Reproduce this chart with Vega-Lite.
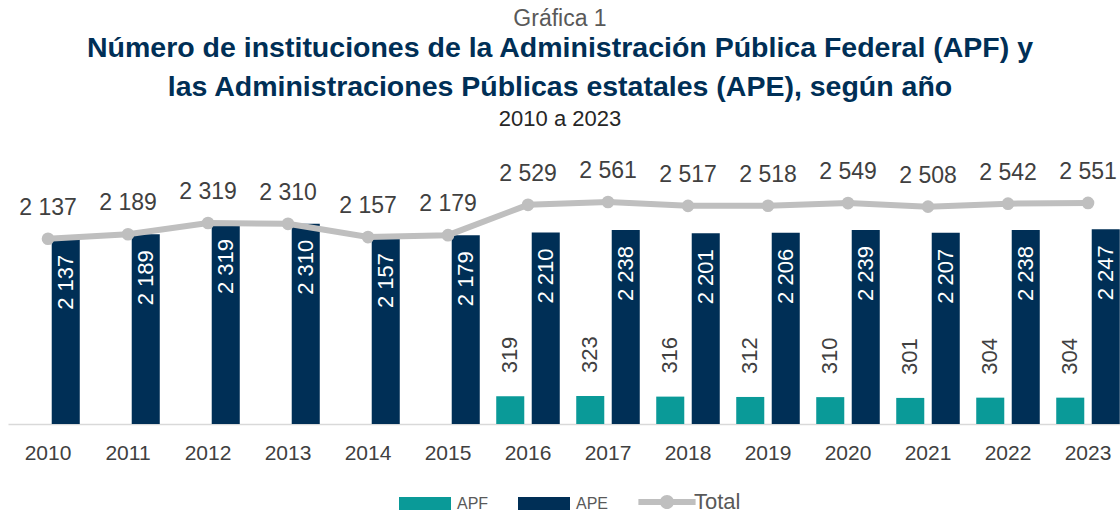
{
  "$schema": "https://vega.github.io/schema/vega-lite/v6.json",
  "padding": {"left": 8, "top": 7, "right": 0, "bottom": 0},
  "autosize": {"type": "pad"},
  "background": "white",
  "title": {"text": "Gráfica 1", "fontSize": 23, "fontWeight": "normal", "color": "#595959", "font": "Liberation Sans", "anchor": "middle", "dx": -8, "offset": 3},
  "config": {
    "locale": {"number": {"decimal": ".", "thousands": " ", "grouping": [3], "currency": ["$", ""]}},
    "view": {"stroke": null},
    "font": "Liberation Sans",
    "concat": {"spacing": 0}
  },
  "vconcat": [
    {
      "width": 1120,
      "height": 260,
      "title": {
        "text": ["Número de instituciones de la Administración Pública Federal (APF) y", "las Administraciones Públicas estatales (APE), según año"],
        "subtitle": "2010 a 2023",
        "font": "Liberation Sans",
        "fontSize": 28.5,
        "fontWeight": "bold",
        "color": "#002f56",
        "lineHeight": 39,
        "subtitleFont": "Liberation Sans",
        "subtitleFontSize": 22,
        "subtitleColor": "#262626",
        "subtitlePadding": 8,
        "anchor": "middle",
        "dx": -8,
        "offset": 30
      },
      "data": {
        "values": [
          {"year": "2010", "series": "APE", "value": 2137},
          {"year": "2011", "series": "APE", "value": 2189},
          {"year": "2012", "series": "APE", "value": 2319},
          {"year": "2013", "series": "APE", "value": 2310},
          {"year": "2014", "series": "APE", "value": 2157},
          {"year": "2015", "series": "APE", "value": 2179},
          {"year": "2016", "series": "APE", "value": 2210},
          {"year": "2017", "series": "APE", "value": 2238},
          {"year": "2018", "series": "APE", "value": 2201},
          {"year": "2019", "series": "APE", "value": 2206},
          {"year": "2020", "series": "APE", "value": 2239},
          {"year": "2021", "series": "APE", "value": 2207},
          {"year": "2022", "series": "APE", "value": 2238},
          {"year": "2023", "series": "APE", "value": 2247},
          {"year": "2016", "series": "APF", "value": 319},
          {"year": "2017", "series": "APF", "value": 323},
          {"year": "2018", "series": "APF", "value": 316},
          {"year": "2019", "series": "APF", "value": 312},
          {"year": "2020", "series": "APF", "value": 310},
          {"year": "2021", "series": "APF", "value": 301},
          {"year": "2022", "series": "APF", "value": 304},
          {"year": "2023", "series": "APF", "value": 304},
          {"year": "2010", "series": "Total", "value": 2137},
          {"year": "2011", "series": "Total", "value": 2189},
          {"year": "2012", "series": "Total", "value": 2319},
          {"year": "2013", "series": "Total", "value": 2310},
          {"year": "2014", "series": "Total", "value": 2157},
          {"year": "2015", "series": "Total", "value": 2179},
          {"year": "2016", "series": "Total", "value": 2529},
          {"year": "2017", "series": "Total", "value": 2561},
          {"year": "2018", "series": "Total", "value": 2517},
          {"year": "2019", "series": "Total", "value": 2518},
          {"year": "2020", "series": "Total", "value": 2549},
          {"year": "2021", "series": "Total", "value": 2508},
          {"year": "2022", "series": "Total", "value": 2542},
          {"year": "2023", "series": "Total", "value": 2551}
        ]
      },
      "encoding": {
        "x": {
          "field": "year",
          "type": "ordinal",
          "scale": {"paddingInner": 0, "paddingOuter": 0},
          "axis": {"title": null, "labelAngle": 0, "labelFontSize": 21, "labelColor": "#404040", "ticks": false, "domainColor": "#d9d9d9", "domainWidth": 1.5, "labelPadding": 18, "grid": false}
        },
        "y": {"field": "value", "type": "quantitative", "scale": {"domain": [0, 3000], "nice": false}, "axis": null}
      },
      "layer": [
        {
          "transform": [{"filter": "datum.series !== 'Total'"}],
          "mark": {"type": "bar"},
          "encoding": {
            "xOffset": {"field": "series", "type": "nominal", "scale": {"domain": ["APF", "APE"], "paddingInner": 0.21, "paddingOuter": 0.232}},
            "color": {
              "field": "series",
              "type": "nominal",
              "scale": {"domain": ["APF", "APE", "Total"], "range": ["#0a9a98", "#002f56", "#bfbfbf"]},
              "legend": {
                "title": null,
                "orient": "none",
                "direction": "horizontal",
                "legendX": 404,
                "legendY": 325,
                "symbolSize": 676,
                "labelOffset": 19,
                "columnPadding": 29,
                "labelFontSize": 16,
                "labelColor": "#595959",
                "encode": {
                  "symbols": {
                    "update": {
                      "shape": {"signal": "datum.value === 'Total' ? 'M-2.2,-0.23H2.2V0.23H-2.2Z M-0.54,0A0.54,0.54 0 1,1 0.54,0A0.54,0.54 0 1,1 -0.54,0Z' : 'M-2,-0.5H2V0.5H-2Z'"},
                      "fill": {"scale": "color", "field": "value"},
                      "stroke": {"value": "transparent"},
                      "strokeWidth": {"value": 0},
                      "opacity": {"value": 1},
                      "fillOpacity": {"value": 1},
                      "size": {"value": 676}
                    }
                  },
                  "labels": {
                    "update": {
                      "fontSize": {"signal": "datum.value === 'Total' ? 22 : 16"},
                      "dx": {"signal": "datum.value === 'Total' ? -5 : 0"}
                    }
                  }
                }
              }
            }
          }
        },
        {
          "transform": [{"filter": "datum.series === 'APE'"}],
          "mark": {"type": "text", "angle": 270, "align": "right", "baseline": "middle", "dx": -16, "fontSize": 22, "color": "white"},
          "encoding": {
            "xOffset": {"field": "series", "type": "nominal", "scale": {"domain": ["APF", "APE"], "paddingInner": 0.21, "paddingOuter": 0.232}},
            "text": {"field": "value", "type": "quantitative", "format": ",d"}
          }
        },
        {
          "transform": [{"filter": "datum.series === 'APF'"}],
          "mark": {"type": "text", "angle": 270, "align": "left", "baseline": "middle", "dx": 23, "fontSize": 22, "color": "#404040"},
          "encoding": {
            "xOffset": {"field": "series", "type": "nominal", "scale": {"domain": ["APF", "APE"], "paddingInner": 0.21, "paddingOuter": 0.232}},
            "text": {"field": "value", "type": "quantitative", "format": ",d"}
          }
        },
        {
          "transform": [{"filter": "datum.series === 'Total'"}],
          "mark": {"type": "line", "strokeWidth": 6},
          "encoding": {"color": {"field": "series", "type": "nominal"}}
        },
        {
          "transform": [{"filter": "datum.series === 'Total'"}],
          "mark": {"type": "point", "filled": true, "size": 160, "opacity": 1},
          "encoding": {"color": {"field": "series", "type": "nominal"}}
        },
        {
          "transform": [{"filter": "datum.series === 'Total'"}],
          "mark": {"type": "text", "baseline": "middle", "dy": -31, "fontSize": 23, "color": "#404040"},
          "encoding": {"text": {"field": "value", "type": "quantitative", "format": ",d"}}
        }
      ]
    }
  ]
}
